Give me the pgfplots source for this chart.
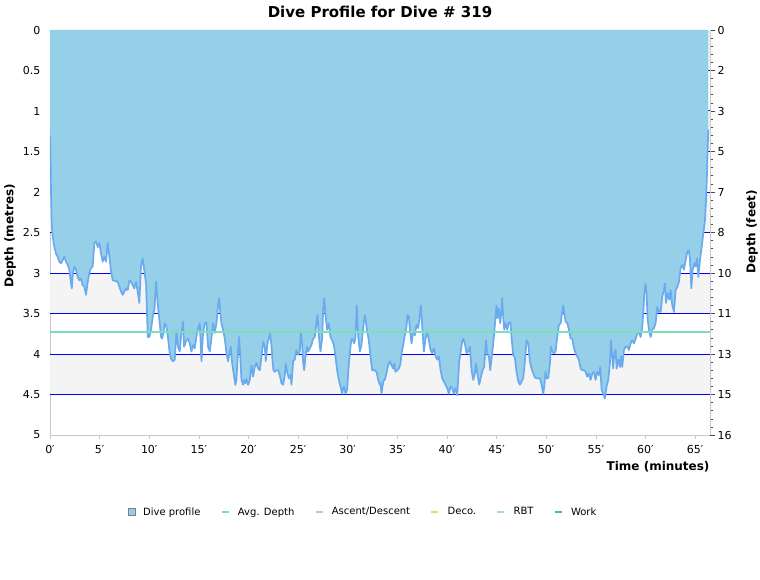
\documentclass[border=0pt]{standalone}
\usepackage{fontspec}
\setmainfont{DejaVu Sans}
\usepackage{pgfplots}
\usepackage{pgfplotstable}
\pgfplotsset{compat=1.18}

\definecolor{profilefill}{RGB}{150,207,232}
\definecolor{profileline}{RGB}{106,170,238}
\definecolor{bandgray}{RGB}{244,244,244}
\definecolor{gridblue}{RGB}{0,0,235}
\definecolor{avgcol}{RGB}{122,224,184}
\definecolor{asccol}{RGB}{144,232,144}
\definecolor{decocol}{RGB}{216,224,112}
\definecolor{rbtcol}{RGB}{160,216,240}
\definecolor{workcol}{RGB}{64,192,144}
\definecolor{axisgray}{RGB}{200,200,200}

% time (min), depth (m)
\pgfplotstableread{
t d
0 1.30
0.05 1.50
0.10 2.00
0.17 2.40
0.27 2.55
0.44 2.68
0.60 2.76
0.77 2.80
0.94 2.86
1.11 2.88
1.28 2.84
1.44 2.80
1.61 2.86
1.78 2.90
1.95 2.96
2.12 3.13
2.20 3.19
2.29 3.03
2.45 2.92
2.62 2.96
2.79 3.05
2.96 3.09
3.13 3.07
3.29 3.15
3.46 3.17
3.63 3.27
3.80 3.11
3.96 3.00
4.13 2.94
4.30 2.92
4.47 2.63
4.64 2.61
4.81 2.68
4.97 2.63
5.14 2.76
5.31 2.86
5.48 2.80
5.65 2.86
5.81 2.63
5.98 2.80
6.15 2.98
6.32 3.09
6.65 3.10
6.82 3.11
6.99 3.17
7.16 3.23
7.33 3.27
7.49 3.23
7.66 3.19
7.83 3.21
8.00 3.09
8.17 3.11
8.33 3.15
8.50 3.19
8.67 3.11
8.84 3.23
9.00 3.37
9.17 2.92
9.34 2.82
9.51 2.98
9.68 3.13
9.85 3.79
10.01 3.79
10.18 3.70
10.35 3.54
10.52 3.44
10.69 3.11
10.85 3.37
11.02 3.58
11.19 3.79
11.29 3.81
11.42 3.74
11.56 3.62
11.73 3.66
11.90 3.81
12.06 3.99
12.23 4.07
12.40 4.09
12.57 4.07
12.74 3.72
12.90 3.91
13.07 3.97
13.24 3.74
13.41 3.60
13.51 3.91
13.74 3.83
13.91 3.81
14.08 3.87
14.25 3.97
14.42 3.89
14.58 3.93
14.75 3.79
14.92 3.68
15.09 3.62
15.26 4.09
15.42 3.74
15.59 3.62
15.76 3.61
15.93 3.91
16.10 3.97
16.26 3.81
16.43 3.62
16.60 3.74
16.77 3.62
16.94 3.39
17.04 3.31
17.17 3.50
17.27 3.62
17.44 3.70
17.61 3.81
17.78 3.99
17.94 4.09
18.11 3.97
18.21 3.91
18.35 4.11
18.55 4.28
18.68 4.38
18.78 4.32
18.95 3.95
19.05 3.79
19.19 4.07
19.29 4.32
19.46 4.38
19.56 4.32
19.69 4.36
19.79 4.31
19.96 4.38
20.13 4.32
20.30 4.14
20.46 4.28
20.63 4.16
20.80 4.11
20.97 4.18
21.14 4.20
21.31 4.03
21.48 3.85
21.64 3.91
21.74 4.09
21.91 3.87
22.04 3.81
22.18 3.74
22.31 3.89
22.41 4.07
22.51 4.20
22.65 4.22
22.82 4.20
22.98 4.20
23.15 4.26
23.32 4.36
23.49 4.38
23.66 4.26
23.76 4.12
23.89 4.22
24.06 4.30
24.23 4.26
24.33 4.38
24.50 4.09
24.66 4.07
24.83 3.95
25.00 4.01
25.17 3.97
25.27 3.72
25.40 3.87
25.50 4.09
25.61 4.20
25.74 4.03
25.91 3.91
26.01 3.97
26.18 3.93
26.34 3.89
26.51 3.81
26.68 3.79
26.85 3.62
26.95 3.52
27.08 3.77
27.25 3.97
27.42 3.81
27.52 3.46
27.62 3.31
27.76 3.52
27.92 3.70
28.09 3.62
28.26 3.79
28.43 3.83
28.60 3.89
28.76 4.03
28.93 4.20
29.10 4.32
29.27 4.40
29.44 4.49
29.54 4.42
29.64 4.40
29.77 4.49
29.94 4.44
30.04 4.24
30.14 4.09
30.28 3.91
30.38 3.81
30.54 3.83
30.65 3.87
30.78 3.79
30.91 3.40
31.05 3.77
31.22 3.97
31.38 3.89
31.55 3.68
31.72 3.52
31.82 3.60
31.96 3.72
32.12 3.83
32.29 4.03
32.46 4.20
32.66 4.20
32.90 4.22
33.07 4.32
33.23 4.38
33.30 4.36
33.40 4.49
33.50 4.40
33.64 4.32
33.74 4.32
33.90 4.24
34.07 4.14
34.24 4.09
34.41 4.14
34.58 4.18
34.68 4.12
34.81 4.22
34.98 4.20
35.15 4.18
35.32 4.12
35.42 3.99
35.59 3.89
35.75 3.77
35.92 3.66
36.02 3.52
36.16 3.54
36.26 3.70
36.43 3.87
36.59 3.72
36.76 3.77
36.93 3.64
37.10 3.68
37.27 3.52
37.37 3.40
37.50 3.66
37.67 3.97
37.84 3.81
38.00 3.72
38.17 3.83
38.34 3.95
38.51 3.99
38.68 3.93
38.85 4.03
39.01 4.07
39.18 4.03
39.35 4.20
39.52 4.30
39.68 4.34
39.85 4.38
40.02 4.42
40.19 4.49
40.36 4.40
40.52 4.42
40.69 4.49
40.86 4.42
41.03 4.51
41.13 4.30
41.23 4.09
41.36 3.99
41.53 3.85
41.63 3.81
41.80 3.87
41.97 3.99
42.14 3.97
42.31 3.91
42.47 4.20
42.64 4.32
42.81 4.24
42.91 4.12
43.08 4.26
43.25 4.38
43.42 4.28
43.58 4.20
43.75 4.16
43.92 3.83
44.05 3.99
44.22 4.03
44.36 4.20
44.49 4.05
44.66 3.87
44.76 3.74
44.89 3.54
44.99 3.40
45.09 3.56
45.23 3.44
45.36 3.62
45.50 3.46
45.56 3.31
45.66 3.54
45.77 3.70
45.90 3.62
46.07 3.70
46.24 3.61
46.40 3.61
46.51 3.81
46.67 4.01
46.84 4.05
47.01 4.22
47.18 4.34
47.35 4.38
47.51 4.34
47.68 4.30
47.85 4.09
48.02 3.83
48.19 3.87
48.35 4.09
48.52 4.18
48.69 4.24
48.86 4.29
49.03 4.30
49.19 4.30
49.36 4.30
49.53 4.38
49.70 4.49
49.80 4.40
49.93 4.22
50.03 4.30
50.20 4.30
50.37 4.12
50.47 3.91
50.60 3.97
50.77 3.99
50.94 3.97
51.11 3.79
51.28 3.64
51.45 3.62
51.61 3.48
51.71 3.40
51.81 3.50
51.95 3.60
52.12 3.62
52.29 3.70
52.45 3.81
52.62 3.81
52.79 3.93
52.96 3.99
53.12 4.03
53.29 4.07
53.46 4.18
53.63 4.20
53.80 4.20
53.96 4.22
54.13 4.28
54.30 4.24
54.47 4.32
54.64 4.24
54.80 4.22
54.97 4.32
55.14 4.22
55.31 4.26
55.44 4.16
55.58 4.44
55.75 4.49
55.91 4.55
56.08 4.40
56.25 4.32
56.42 4.11
56.52 3.83
56.65 4.03
56.75 4.18
56.86 3.99
56.99 3.95
57.09 4.18
57.26 4.07
57.43 4.16
57.53 4.03
57.66 4.16
57.83 3.95
58.00 3.91
58.17 3.91
58.33 3.95
58.50 3.87
58.67 3.83
58.84 3.87
59.01 3.81
59.17 3.75
59.34 3.73
59.51 3.79
59.68 3.66
59.78 3.48
59.88 3.25
60.01 3.13
60.11 3.25
60.22 3.58
60.35 3.70
60.52 3.79
60.69 3.70
60.85 3.68
61.02 3.62
61.19 3.42
61.36 3.48
61.53 3.48
61.69 3.29
61.86 3.21
61.96 3.13
62.06 3.37
62.23 3.25
62.40 3.33
62.53 3.21
62.70 3.40
62.87 3.48
63.04 3.21
63.21 3.17
63.37 3.11
63.54 2.94
63.71 2.90
63.88 2.96
64.05 2.84
64.21 2.74
64.35 2.72
64.48 2.82
64.62 3.19
64.75 2.96
64.92 2.88
65.05 2.92
65.19 2.82
65.32 3.05
65.49 2.84
65.66 2.68
65.83 2.51
65.99 2.35
66.10 2.10
66.20 1.77
66.26 1.48
66.33 1.23
}\profile

\begin{document}
\begin{tikzpicture}
\useasboundingbox (-50pt,-145pt) rectangle (710pt,435pt);

% right-hand feet axis
\begin{axis}[
    at={(0pt,0pt)}, anchor=south west,
    scale only axis, width=660pt, height=405pt,
    xmin=0, xmax=66.5, ymin=0, ymax=5, y dir=reverse,
    axis x line=none, axis y line*=right,
    axis line style={axisgray, line width=0.8pt},
    ytick={0,0.5,...,5},
    yticklabels={0,2,3,5,7,8,10,11,13,15,16},
    minor y tick num=4,
    tick align=outside,
    major tick length=5pt, minor tick length=3pt,
    y tick style={black!70, line width=0.6pt},
    tick label style={font=\fontsize{11}{13}\selectfont},
    yticklabel style={xshift=-1pt},
]
\end{axis}

\begin{axis}[
    at={(0pt,0pt)}, anchor=south west,
    scale only axis, width=660pt, height=405pt,
    xmin=0, xmax=66.5, ymin=0, ymax=5, y dir=reverse,
    axis x line*=bottom, axis y line*=left,
    axis line style={axisgray, line width=0.8pt},
    xtick={0,5,...,65},
    xticklabels={0′,5′,10′,15′,20′,25′,30′,35′,40′,45′,50′,55′,60′,65′},
    ytick={0,0.5,...,5},
    yticklabels={0,0.5,1,1.5,2,2.5,3,3.5,4,4.5,5},
    /pgf/number format/assume math mode=true,
    tick align=outside,
    major tick length=4pt,
    x tick style={axisgray, line width=0.6pt},
    y tick style={draw=none},
    tick label style={font=\fontsize{11}{13}\selectfont},
    xticklabel style={yshift=-3pt},
    yticklabel style={xshift=-2pt},
    legend style={at={(0.4742,-0.19)}, anchor=center, draw=none, fill=none,
        font=\fontsize{10}{12}\selectfont, legend columns=-1,
        /tikz/every odd column/.append style={column sep=6pt},
        /tikz/every even column/.append style={column sep=18pt}},
]
\fill[bandgray] (axis cs:0,0) rectangle (axis cs:66.5,0.5);
\fill[bandgray] (axis cs:0,1) rectangle (axis cs:66.5,1.5);
\fill[bandgray] (axis cs:0,2) rectangle (axis cs:66.5,2.5);
\fill[bandgray] (axis cs:0,3) rectangle (axis cs:66.5,3.5);
\fill[bandgray] (axis cs:0,4) rectangle (axis cs:66.5,4.5);
\draw[gridblue, line width=1pt] (axis cs:0,0.5) -- (axis cs:66.5,0.5);
\draw[gridblue, line width=1pt] (axis cs:0,1) -- (axis cs:66.5,1);
\draw[gridblue, line width=1pt] (axis cs:0,1.5) -- (axis cs:66.5,1.5);
\draw[gridblue, line width=1pt] (axis cs:0,2) -- (axis cs:66.5,2);
\draw[gridblue, line width=1pt] (axis cs:0,2.5) -- (axis cs:66.5,2.5);
\draw[gridblue, line width=1pt] (axis cs:0,3) -- (axis cs:66.5,3);
\draw[gridblue, line width=1pt] (axis cs:0,3.5) -- (axis cs:66.5,3.5);
\draw[gridblue, line width=1pt] (axis cs:0,4) -- (axis cs:66.5,4);
\draw[gridblue, line width=1pt] (axis cs:0,4.5) -- (axis cs:66.5,4.5);

\addplot[fill=profilefill, draw=none, forget plot] table[x=t, y=d] {\profile} \closedcycle;
\addplot[profileline, line width=1.7pt, line join=round, forget plot] table[x=t, y=d] {\profile};
\addplot[avgcol, line width=2pt, forget plot] coordinates {(0,3.73) (66.5,3.73)};

\addlegendimage{legend image code/.code={\draw[fill=profilefill, draw=gray, line width=0.6pt] (0pt,-3.5pt) rectangle (7pt,3.5pt);}}
\addlegendentry{Dive profile}
\addlegendimage{legend image code/.code={\draw[avgcol, line width=2.5pt] (0pt,0pt) -- (7pt,0pt);}}
\addlegendentry{Avg. Depth}
\addlegendimage{legend image code/.code={\draw[asccol, line width=2.5pt] (0pt,0pt) -- (7pt,0pt);}}
\addlegendentry{Ascent/Descent}
\addlegendimage{legend image code/.code={\draw[decocol, line width=2.5pt] (0pt,0pt) -- (7pt,0pt);}}
\addlegendentry{Deco.}
\addlegendimage{legend image code/.code={\draw[rbtcol, line width=2.5pt] (0pt,0pt) -- (7pt,0pt);}}
\addlegendentry{RBT}
\addlegendimage{legend image code/.code={\draw[workcol, line width=2.5pt] (0pt,0pt) -- (7pt,0pt);}}
\addlegendentry{Work}
\end{axis}

\node[font=\fontsize{15}{17}\selectfont\bfseries] at (330pt,423pt) {Dive Profile for Dive \# 319};
\node[font=\fontsize{12}{14}\selectfont\bfseries, rotate=90] at (-40pt,199pt) {Depth (metres)};
\node[font=\fontsize{12}{14}\selectfont\bfseries, rotate=90] at (702pt,203pt) {Depth (feet)};
\node[font=\fontsize{12}{14}\selectfont\bfseries, anchor=east] at (663pt,-32pt) {Time (minutes)};
\end{tikzpicture}
\end{document}
